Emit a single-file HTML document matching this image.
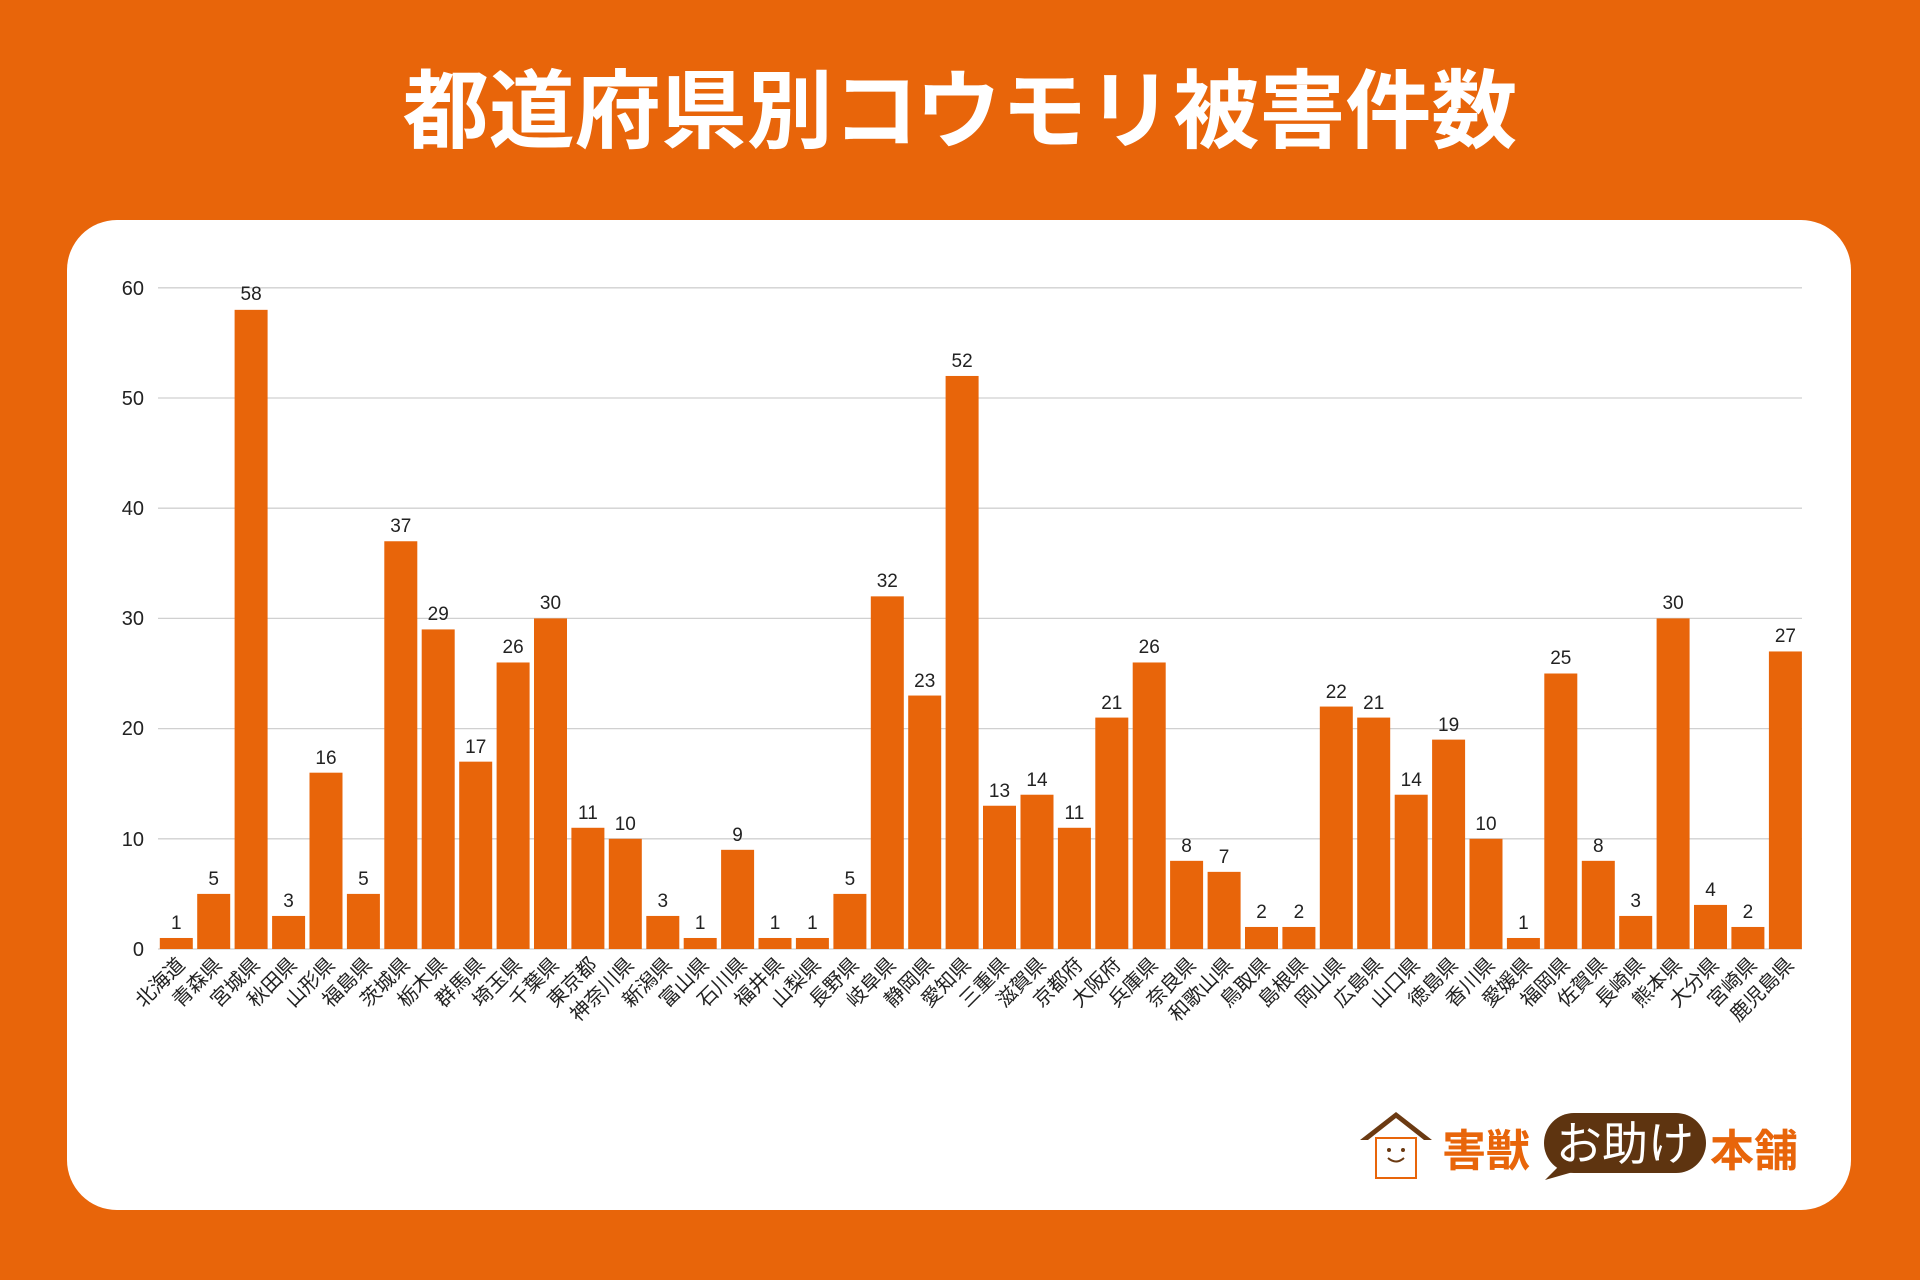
<!DOCTYPE html>
<html><head><meta charset="utf-8"><style>
html,body{margin:0;padding:0;background:#E8650A;}
svg{display:block;}
text{font-family:"Liberation Sans","Noto Sans CJK JP",sans-serif;}
</style></head><body>
<svg width="1920" height="1280" viewBox="0 0 1920 1280" xmlns="http://www.w3.org/2000/svg">
<rect width="1920" height="1280" fill="#E8650A"/>
<text x="960" y="141" text-anchor="middle" font-size="86" font-weight="bold" fill="#fff" style="font-family:'Noto Sans CJK JP',sans-serif">都道府県別コウモリ被害件数</text>
<rect x="67" y="220" width="1784" height="990" rx="50" fill="#fff"/>
<g stroke="#d0d0d0" stroke-width="1.3">
<line x1="158" x2="1802" y1="287.8" y2="287.8"/><line x1="158" x2="1802" y1="398" y2="398"/><line x1="158" x2="1802" y1="508.2" y2="508.2"/><line x1="158" x2="1802" y1="618.4" y2="618.4"/><line x1="158" x2="1802" y1="728.6" y2="728.6"/><line x1="158" x2="1802" y1="838.8" y2="838.8"/><line x1="158" x2="1802" y1="949" y2="949"/>
</g>
<g font-size="20" fill="#222" text-anchor="end">
<text x="144" y="295">60</text><text x="144" y="405">50</text><text x="144" y="515">40</text><text x="144" y="625">30</text><text x="144" y="735">20</text><text x="144" y="846">10</text><text x="144" y="956">0</text>
</g>
<g transform="translate(0,949) scale(1,-11.02)" fill="#E8650A">
<rect x="159.8" width="33" y="0" height="1"/>
<rect x="197.2" width="33" y="0" height="5"/>
<rect x="234.6" width="33" y="0" height="58"/>
<rect x="272.1" width="33" y="0" height="3"/>
<rect x="309.5" width="33" y="0" height="16"/>
<rect x="346.9" width="33" y="0" height="5"/>
<rect x="384.3" width="33" y="0" height="37"/>
<rect x="421.7" width="33" y="0" height="29"/>
<rect x="459.2" width="33" y="0" height="17"/>
<rect x="496.6" width="33" y="0" height="26"/>
<rect x="534" width="33" y="0" height="30"/>
<rect x="571.4" width="33" y="0" height="11"/>
<rect x="608.8" width="33" y="0" height="10"/>
<rect x="646.3" width="33" y="0" height="3"/>
<rect x="683.7" width="33" y="0" height="1"/>
<rect x="721.1" width="33" y="0" height="9"/>
<rect x="758.5" width="33" y="0" height="1"/>
<rect x="795.9" width="33" y="0" height="1"/>
<rect x="833.4" width="33" y="0" height="5"/>
<rect x="870.8" width="33" y="0" height="32"/>
<rect x="908.2" width="33" y="0" height="23"/>
<rect x="945.6" width="33" y="0" height="52"/>
<rect x="983" width="33" y="0" height="13"/>
<rect x="1020.5" width="33" y="0" height="14"/>
<rect x="1057.9" width="33" y="0" height="11"/>
<rect x="1095.3" width="33" y="0" height="21"/>
<rect x="1132.7" width="33" y="0" height="26"/>
<rect x="1170.1" width="33" y="0" height="8"/>
<rect x="1207.6" width="33" y="0" height="7"/>
<rect x="1245" width="33" y="0" height="2"/>
<rect x="1282.4" width="33" y="0" height="2"/>
<rect x="1319.8" width="33" y="0" height="22"/>
<rect x="1357.2" width="33" y="0" height="21"/>
<rect x="1394.7" width="33" y="0" height="14"/>
<rect x="1432.1" width="33" y="0" height="19"/>
<rect x="1469.5" width="33" y="0" height="10"/>
<rect x="1506.9" width="33" y="0" height="1"/>
<rect x="1544.3" width="33" y="0" height="25"/>
<rect x="1581.8" width="33" y="0" height="8"/>
<rect x="1619.2" width="33" y="0" height="3"/>
<rect x="1656.6" width="33" y="0" height="30"/>
<rect x="1694" width="33" y="0" height="4"/>
<rect x="1731.4" width="33" y="0" height="2"/>
<rect x="1768.9" width="33" y="0" height="27"/>
</g>
<g font-size="19" fill="#222" text-anchor="middle">
<text x="176.3" y="929">1</text><text x="213.7" y="885">5</text><text x="251.1" y="300">58</text><text x="288.6" y="907">3</text><text x="326" y="764">16</text><text x="363.4" y="885">5</text><text x="400.8" y="532">37</text><text x="438.2" y="620">29</text><text x="475.7" y="753">17</text><text x="513.1" y="653">26</text><text x="550.5" y="609">30</text><text x="587.9" y="819">11</text><text x="625.3" y="830">10</text><text x="662.8" y="907">3</text><text x="700.2" y="929">1</text><text x="737.6" y="841">9</text><text x="775" y="929">1</text><text x="812.4" y="929">1</text><text x="849.9" y="885">5</text><text x="887.3" y="587">32</text><text x="924.7" y="687">23</text><text x="962.1" y="367">52</text><text x="999.5" y="797">13</text><text x="1037" y="786">14</text><text x="1074.4" y="819">11</text><text x="1111.8" y="709">21</text><text x="1149.2" y="653">26</text><text x="1186.6" y="852">8</text><text x="1224.1" y="863">7</text><text x="1261.5" y="918">2</text><text x="1298.9" y="918">2</text><text x="1336.3" y="698">22</text><text x="1373.7" y="709">21</text><text x="1411.2" y="786">14</text><text x="1448.6" y="731">19</text><text x="1486" y="830">10</text><text x="1523.4" y="929">1</text><text x="1560.8" y="664">25</text><text x="1598.3" y="852">8</text><text x="1635.7" y="907">3</text><text x="1673.1" y="609">30</text><text x="1710.5" y="896">4</text><text x="1747.9" y="918">2</text><text x="1785.4" y="642">27</text>
</g>
<g font-size="20" fill="#222" text-anchor="end">
<text transform="translate(186,966) rotate(-45)">北海道</text>
<text transform="translate(223,966) rotate(-45)">青森県</text>
<text transform="translate(261,966) rotate(-45)">宮城県</text>
<text transform="translate(298,966) rotate(-45)">秋田県</text>
<text transform="translate(336,966) rotate(-45)">山形県</text>
<text transform="translate(373,966) rotate(-45)">福島県</text>
<text transform="translate(411,966) rotate(-45)">茨城県</text>
<text transform="translate(448,966) rotate(-45)">栃木県</text>
<text transform="translate(486,966) rotate(-45)">群馬県</text>
<text transform="translate(523,966) rotate(-45)">埼玉県</text>
<text transform="translate(560,966) rotate(-45)">千葉県</text>
<text transform="translate(598,966) rotate(-45)">東京都</text>
<text transform="translate(635,966) rotate(-45)">神奈川県</text>
<text transform="translate(673,966) rotate(-45)">新潟県</text>
<text transform="translate(710,966) rotate(-45)">富山県</text>
<text transform="translate(748,966) rotate(-45)">石川県</text>
<text transform="translate(785,966) rotate(-45)">福井県</text>
<text transform="translate(822,966) rotate(-45)">山梨県</text>
<text transform="translate(860,966) rotate(-45)">長野県</text>
<text transform="translate(897,966) rotate(-45)">岐阜県</text>
<text transform="translate(935,966) rotate(-45)">静岡県</text>
<text transform="translate(972,966) rotate(-45)">愛知県</text>
<text transform="translate(1010,966) rotate(-45)">三重県</text>
<text transform="translate(1047,966) rotate(-45)">滋賀県</text>
<text transform="translate(1084,966) rotate(-45)">京都府</text>
<text transform="translate(1122,966) rotate(-45)">大阪府</text>
<text transform="translate(1159,966) rotate(-45)">兵庫県</text>
<text transform="translate(1197,966) rotate(-45)">奈良県</text>
<text transform="translate(1234,966) rotate(-45)">和歌山県</text>
<text transform="translate(1271,966) rotate(-45)">鳥取県</text>
<text transform="translate(1309,966) rotate(-45)">島根県</text>
<text transform="translate(1346,966) rotate(-45)">岡山県</text>
<text transform="translate(1384,966) rotate(-45)">広島県</text>
<text transform="translate(1421,966) rotate(-45)">山口県</text>
<text transform="translate(1459,966) rotate(-45)">徳島県</text>
<text transform="translate(1496,966) rotate(-45)">香川県</text>
<text transform="translate(1533,966) rotate(-45)">愛媛県</text>
<text transform="translate(1571,966) rotate(-45)">福岡県</text>
<text transform="translate(1608,966) rotate(-45)">佐賀県</text>
<text transform="translate(1646,966) rotate(-45)">長崎県</text>
<text transform="translate(1683,966) rotate(-45)">熊本県</text>
<text transform="translate(1720,966) rotate(-45)">大分県</text>
<text transform="translate(1758,966) rotate(-45)">宮崎県</text>
<text transform="translate(1795,966) rotate(-45)">鹿児島県</text>
</g>
<g>
<polygon points="1360,1140 1396,1112 1432,1140 1424,1140 1396,1118 1368,1140" fill="#6B3A12"/>
<rect x="1376" y="1138" width="40" height="40" fill="#fff" stroke="#E8650A" stroke-width="2"/>
<circle cx="1389" cy="1150" r="2" fill="#6B3A12"/><circle cx="1403" cy="1150" r="2" fill="#6B3A12"/>
<path d="M1388,1158 q8,7 16,0" stroke="#6B3A12" stroke-width="2" fill="none"/>
<text x="1442" y="1166" font-size="44" font-weight="bold" fill="#E8650A" style="font-family:'Noto Sans CJK JP',sans-serif">害獣</text>
<circle cx="1574" cy="1143" r="30" fill="#5E3410"/><circle cx="1625" cy="1143" r="30" fill="#5E3410"/><circle cx="1676" cy="1143" r="30" fill="#5E3410"/>
<rect x="1574" y="1113" width="102" height="60" fill="#5E3410"/>
<polygon points="1560,1165 1545,1180 1580,1170" fill="#5E3410"/>
<text x="1625" y="1160" text-anchor="middle" font-size="46" fill="#fff" style="font-family:'Noto Sans CJK JP',sans-serif">お助け</text>
<text x="1710" y="1166" font-size="44" font-weight="bold" fill="#E8650A" style="font-family:'Noto Sans CJK JP',sans-serif">本舗</text>
</g>
</svg>
</body></html>
